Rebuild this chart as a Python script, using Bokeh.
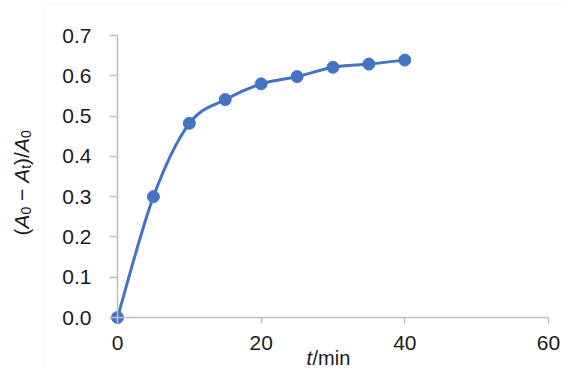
import numpy as np
from bokeh.plotting import figure
from bokeh.models import Label, BoxAnnotation, FixedTicker, NumeralTickFormatter, Range1d
from bokeh.embed import file_html
from bokeh.resources import INLINE

# ---- data ----
time_min = [0, 5, 10, 15, 20, 25, 30, 35, 40]
ratio = [0.0, 0.300, 0.482, 0.541, 0.580, 0.598, 0.621, 0.629, 0.639]
x_ticks = [0, 20, 40, 60]
y_ticks = [0.0, 0.1, 0.2, 0.3, 0.4, 0.5, 0.6, 0.7]

# ---- layout (figure pixels) ----
W, H = 562, 367
X0_PX, X60_PX = 117, 548     # where x=0 and x=60 fall
Y0_PX, Y07_PX = 317, 35      # where y=0 and y=0.7 fall
PPX = (X60_PX - X0_PX) / (x_ticks[-1] - x_ticks[0])
PPY = (Y0_PX - Y07_PX) / (y_ticks[-1] - y_ticks[0])


def fx(px):
    return (px - X0_PX) / PPX


def fy(py):
    return (Y0_PX - py) / PPY


BLUE = "#4472C4"
AXIS = "#bfbfbf"
TXT = "#1a1a1a"
FONT = "Liberation Sans"

p = figure(width=W, height=H, output_backend="svg", toolbar_location=None,
           x_range=Range1d(fx(0), fx(W)), y_range=Range1d(fy(H), fy(0)),
           min_border_left=0, min_border_right=0,
           min_border_top=0, min_border_bottom=0)
p.background_fill_color = "white"
p.border_fill_color = "white"
p.outline_line_color = None
p.xgrid.grid_line_color = None
p.ygrid.grid_line_color = None

for ax, ticks in ((p.xaxis, x_ticks), (p.yaxis, y_ticks)):
    ax.ticker = FixedTicker(ticks=ticks)
    ax.fixed_location = 0
    ax.axis_line_color = AXIS
    ax.axis_line_width = 1.5
    ax.major_tick_line_color = AXIS
    ax.major_tick_line_width = 1.5
    ax.major_tick_in = 0
    ax.minor_tick_line_color = None
    ax.major_label_text_font = FONT
    ax.major_label_text_font_size = "21px"
    ax.major_label_text_color = TXT

p.xaxis.bounds = (x_ticks[0], x_ticks[-1])
p.yaxis.bounds = (y_ticks[0], y_ticks[-1])
p.xaxis.major_tick_out = 6
p.xaxis.major_label_standoff = 12
p.yaxis.major_tick_out = 8
p.yaxis.major_label_standoff = 18
p.yaxis.formatter = NumeralTickFormatter(format="0.0")

# chart-area border (left and top edges visible)
p.add_layout(BoxAnnotation(left=fx(43), right=fx(W + 50), top=fy(4), bottom=fy(H + 50),
                           fill_color=None, line_color="#d9d9d9", line_width=1))

# smoothed line (Catmull-Rom style Bezier segments through the points)
xs = np.array(time_min, dtype=float)
ys = np.array(ratio, dtype=float)
qx = np.concatenate([[xs[0]], xs, [xs[-1]]])
qy = np.concatenate([[ys[0]], ys, [ys[-1]]])
i = np.arange(len(xs) - 1)
cx0 = qx[i + 1] + (qx[i + 2] - qx[i]) / 6
cy0 = qy[i + 1] + (qy[i + 2] - qy[i]) / 6
cx1 = qx[i + 2] - (qx[i + 3] - qx[i + 1]) / 6
cy1 = qy[i + 2] - (qy[i + 3] - qy[i + 1]) / 6
p.bezier(x0=xs[:-1], y0=ys[:-1], x1=xs[1:], y1=ys[1:],
         cx0=cx0, cy0=cy0, cx1=cx1, cy1=cy1,
         line_color=BLUE, line_width=3, line_cap="round")
p.scatter(x=time_min, y=ratio, size=12, fill_color=BLUE, line_color=BLUE)


def put(px, py, text, size, italic=False, angle=0.0):
    p.add_layout(Label(x=fx(px), y=fy(py), text=text, text_font=FONT,
                       text_font_size=f"{size}px",
                       text_font_style="italic" if italic else "normal",
                       text_color=TXT, angle=angle, text_align="left",
                       text_baseline="alphabetic"))


# y-axis title: (A0 − At)/A0, rotated, built from pieces
NB = "\u00a0"
ADV = {"(": 0.333, "A": 0.667, "0": 0.556, NB: 0.278, "−": 0.584,
       ")": 0.333, "/": 0.278, "t": 0.278}
pieces = [("(", 21, False, 0), ("A", 21, True, 0), ("0", 14, False, 4),
          (NB + "−" + NB, 21, False, 0), ("A", 21, True, 0), ("t", 14, False, 4),
          (")/", 21, False, 0), ("A", 21, True, 0), ("0", 14, False, 4)]
base_x, pos_y = 21, 235
for txt, size, it, shift in pieces:
    put(base_x + shift, pos_y, txt, size, it, np.pi / 2)
    pos_y -= sum(ADV[c] for c in txt) * size

# x-axis title: t/min
put(306, 357, "t", 20, True)
put(306 + 0.278 * 20 + 0.5, 357, "/min", 20, False)

open("out.html", "w").write(file_html(p, INLINE))
